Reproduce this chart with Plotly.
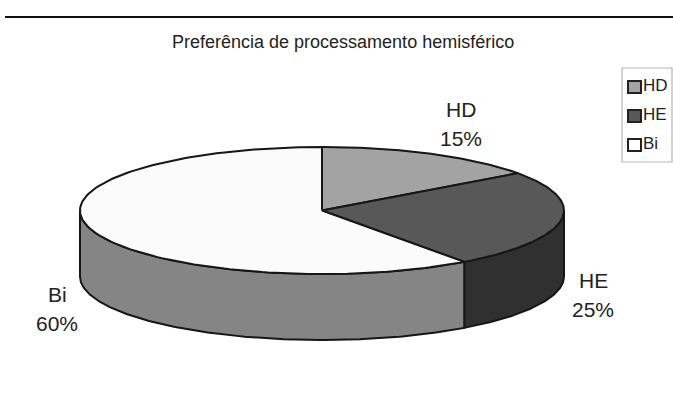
import numpy as np
import plotly.graph_objects as go

# Chart data
categories = ["HD", "HE", "Bi"]
shares = [15, 25, 60]
top_colors = ["#a3a3a3", "#585858", "#fbfbfb"]
side_colors = ["#6a6a6a", "#303030", "#858585"]
legend_colors = ["#a3a3a3", "#585858", "#ffffff"]
title_text = "Preferência de processamento hemisférico"

# Geometry of the tilted disc, in pixels of the page
CX, CY, RX, RY, DEPTH = 322, 210.5, 242, 63.5, 66
OUTLINE = "#161616"


def rim(start, stop, drop=0.0):
    """Points along the rim between two clockwise angles measured from 12 o'clock."""
    t = np.radians(np.linspace(start, stop, 160))
    return CX + RX * np.sin(t), CY - RY * np.cos(t) + drop


fig = go.Figure()

edges = np.cumsum([0] + shares) * 3.6

# Side walls: only the front half of the rim (90..270 degrees) is visible
for i in [1, 2]:
    start, stop = max(edges[i], 90), min(edges[i + 1], 270)
    x_top, y_top = rim(start, stop)
    x_low, y_low = rim(stop, start, DEPTH)
    fig.add_trace(go.Scatter(
        x=np.r_[x_top, x_low, x_top[0]], y=np.r_[y_top, y_low, y_top[0]],
        mode="lines", fill="toself", fillcolor=side_colors[i],
        line=dict(color=OUTLINE, width=2), hoverinfo="skip",
    ))

# Top face wedges
for i, name in enumerate(categories):
    x_arc, y_arc = rim(edges[i], edges[i + 1])
    fig.add_trace(go.Scatter(
        x=np.r_[CX, x_arc, CX], y=np.r_[CY, y_arc, CY],
        mode="lines", fill="toself", fillcolor=top_colors[i],
        line=dict(color=OUTLINE, width=2), name=name, hoverinfo="name",
    ))

annotations = []


def label(x, y, text, size, color="#222222", anchor="center"):
    annotations.append(dict(
        x=x, y=y, text=text, showarrow=False, xanchor=anchor, yanchor="middle",
        font=dict(family="Liberation Sans", size=size, color=color),
    ))


label(342.5, 41.5, title_text, 18)

# Slice labels
label_positions = [(461, 109), (593, 280), (57, 294)]
for name, share, (lx, ly) in zip(categories, shares, label_positions):
    label(lx, ly, name, 21)
    label(lx, ly + 29, f"{share}%", 21)

shapes = [
    # Rule across the page under the running text
    dict(type="line", x0=5, x1=673, y0=17, y1=17, line=dict(color="#111111", width=2)),
    # Legend frame
    dict(type="rect", x0=622, x1=672, y0=68, y1=162, line=dict(color="#b5b5b5", width=1.2)),
]

# Legend entries
for i, name in enumerate(categories):
    y = 87 + i * 29
    shapes.append(dict(type="rect", x0=628, x1=641, y0=y - 6, y1=y + 6,
                       fillcolor=legend_colors[i], line=dict(color="#222222", width=2)))
    label(641, y - 2, name, 17, anchor="left")

fig.update_layout(
    width=673, height=412, margin=dict(l=0, r=0, t=0, b=0),
    paper_bgcolor="white", plot_bgcolor="white", showlegend=False,
    xaxis=dict(range=[0, 673], visible=False, fixedrange=True),
    yaxis=dict(range=[412, 0], visible=False, fixedrange=True),
    annotations=annotations, shapes=shapes,
)

fig.write_html("out.html", config={"displayModeBar": False})
